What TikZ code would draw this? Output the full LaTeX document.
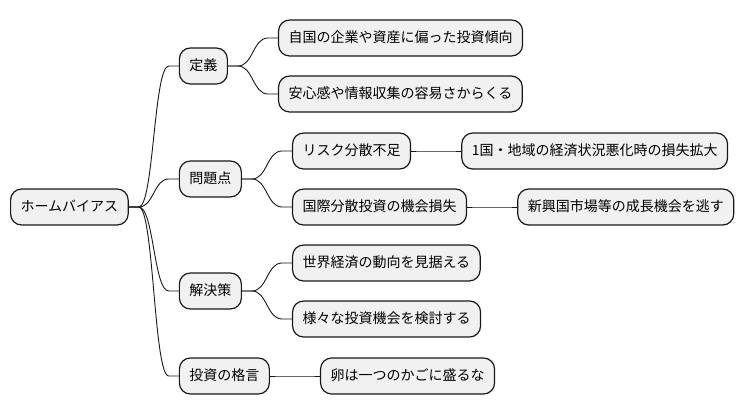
\documentclass[tikz,border=0pt]{standalone}
\usepackage{fontspec}
\setmainfont{Noto Sans CJK JP}
\usepackage{tikz}
\usetikzlibrary{positioning}
\usepackage{xcolor}
\definecolor{boxfill}{HTML}{F1F1F1}
\definecolor{linec}{HTML}{181818}

\begin{document}
\begin{tikzpicture}[node distance=50pt,
    every node/.style={font=\fontsize{14}{16}\selectfont},
    topic/.style={draw=linec, fill=boxfill, line width=1.2pt, rounded corners=11pt,
        minimum height=36pt, inner xsep=10pt, text height=11pt, text depth=2pt},
    branch/.style={draw=linec, line width=0.9pt,
        to path={(\tikztostart) -- ++(10pt,0) .. controls +(15pt,0) and +(-15pt,0) .. ([xshift=-10pt]\tikztotarget) -- (\tikztotarget)}}]
    \useasboundingbox (0,0) rectangle (740pt,-415pt);
    \node[topic, anchor=west] (root) at (10pt,-207pt) {ホームバイアス};
    \node[topic] (teigi) [right=of root, yshift=141pt] {定義};
    \node[topic] (mondai) [right=of root, yshift=28pt] {問題点};
    \node[topic] (kaiketsu) [right=of root, yshift=-84pt] {解決策};
    \node[topic] (kakugen) [right=of root, yshift=-169pt] {投資の格言};
    \node[topic] (jikoku) [right=of teigi, yshift=28pt] {自国の企業や資産に偏った投資傾向};
    \node[topic] (anshin) [right=of teigi, yshift=-28pt] {安心感や情報収集の容易さからくる};
    \node[topic] (risk) [right=of mondai, yshift=28pt] {リスク分散不足};
    \node[topic] (kokusai) [right=of mondai, yshift=-28pt] {国際分散投資の機会損失};
    \node[topic] (ikkoku) [right=of risk] {1国・地域の経済状況悪化時の損失拡大};
    \node[topic] (shinko) [right=of kokusai] {新興国市場等の成長機会を逃す};
    \node[topic] (sekai) [right=of kaiketsu, yshift=28pt] {世界経済の動向を見据える};
    \node[topic] (samazama) [right=of kaiketsu, yshift=-28pt] {様々な投資機会を検討する};
    \node[topic] (tamago) [right=of kakugen] {卵は一つのかごに盛るな};
    \path (root.east) edge[branch] (teigi.west)
                      edge[branch] (mondai.west)
                      edge[branch] (kaiketsu.west)
                      edge[branch] (kakugen.west);
    \path (teigi.east) edge[branch] (jikoku.west)
                       edge[branch] (anshin.west);
    \path (mondai.east) edge[branch] (risk.west)
                        edge[branch] (kokusai.west);
    \path (risk.east) edge[branch] (ikkoku.west);
    \path (kokusai.east) edge[branch] (shinko.west);
    \path (kaiketsu.east) edge[branch] (sekai.west)
                          edge[branch] (samazama.west);
    \path (kakugen.east) edge[branch] (tamago.west);
\end{tikzpicture}
\end{document}
